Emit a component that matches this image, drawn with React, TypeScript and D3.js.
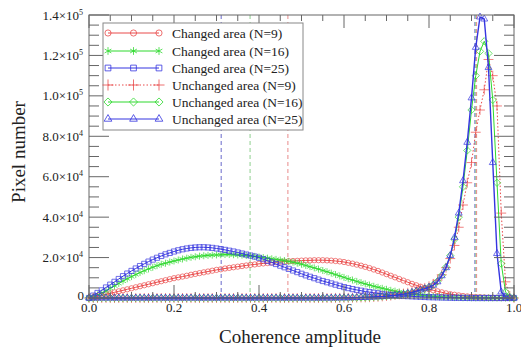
import { useEffect } from 'react';
import * as d3 from 'd3';

// pixel counts in units of 10^3, one value per 0.01 coherence bin (0.00 ... 1.00)
const binWidth = 0.01;

const changedN9 = [
  0, 0.3, 0.8, 1.3, 1.8, 2.3, 2.8, 3.3, 3.8, 4.3,
  4.8, 5.3, 5.8, 6.3, 6.8, 7.3, 7.8, 8.3, 8.8, 9.3,
  9.8, 10.2, 10.6, 11.0, 11.5, 11.9, 12.3, 12.7, 13.1, 13.5,
  13.9, 14.2, 14.6, 14.9, 15.2, 15.5, 15.8, 16.1, 16.4, 16.6,
  16.9, 17.1, 17.3, 17.5, 17.7, 17.9, 18.0, 18.2, 18.3, 18.4,
  18.5, 18.6, 18.6, 18.7, 18.7, 18.7, 18.6, 18.5, 18.3, 18.1,
  17.8, 17.4, 17.0, 16.5, 16.0, 15.4, 14.8, 14.1, 13.4, 12.6,
  11.8, 11.0, 10.2, 9.4, 8.6, 7.8, 7.0, 6.3, 5.6, 5.0,
  4.4, 3.8, 3.3, 2.8, 2.3, 1.9, 1.6, 1.3, 1.0, 0.8,
  0.6, 0.5, 0.4, 0.3, 0.2, 0.15, 0.1, 0.05, 0.05, 0,
  0,
];

const changedN16 = [
  0, 0.5, 1.5, 2.5, 3.5, 4.8, 6.0, 7.2, 8.4, 9.5,
  10.6, 11.6, 12.6, 13.5, 14.4, 15.2, 16.0, 16.7, 17.2, 17.8,
  18.3, 18.8, 19.3, 19.7, 20.1, 20.4, 20.7, 20.9, 21.1, 21.2,
  21.3, 21.4, 21.5, 21.5, 21.4, 21.3, 21.2, 21.0, 20.8, 20.6,
  20.3, 20.0, 19.7, 19.4, 19.1, 18.8, 18.5, 18.1, 17.7, 17.2,
  16.7, 16.1, 15.5, 14.9, 14.3, 13.6, 13.0, 12.3, 11.6, 10.9,
  10.2, 9.5, 8.9, 8.2, 7.6, 7.0, 6.4, 5.8, 5.3, 4.8,
  4.3, 3.8, 3.4, 3.0, 2.6, 2.3, 2.0, 1.7, 1.4, 1.2,
  1.0, 0.8, 0.7, 0.5, 0.4, 0.3, 0.2, 0.2, 0.1, 0.1,
  0.1, 0.05, 0.05, 0, 0, 0, 0, 0, 0, 0,
  0,
];

const changedN25 = [
  0, 1.2, 2.5, 3.8, 5.2, 6.6, 8.0, 9.4, 10.8, 12.1,
  13.4, 14.6, 15.8, 16.9, 18.0, 19.0, 19.9, 20.8, 21.6, 22.3,
  23.0, 23.6, 24.1, 24.5, 24.8, 25.0, 25.1, 25.1, 25.0, 24.8,
  24.5, 24.2, 23.8, 23.4, 23.0, 22.5, 22.0, 21.5, 21.0, 20.5,
  19.9, 19.2, 18.4, 17.6, 16.8, 16.0, 15.2, 14.4, 13.6, 12.8,
  12.0, 11.2, 10.5, 9.8, 9.1, 8.4, 7.8, 7.2, 6.6, 6.0,
  5.4, 4.9, 4.4, 4.0, 3.6, 3.2, 2.9, 2.6, 2.3, 2.0,
  1.7, 1.5, 1.3, 1.1, 1.0, 0.9, 0.8, 0.7, 0.6, 0.5,
  0.4, 0.35, 0.3, 0.25, 0.2, 0.15, 0.1, 0.1, 0.05, 0.05,
  0, 0, 0, 0, 0, 0, 0, 0, 0, 0,
  0,
];

const unchangedN9 = [
  0, 0, 0, 0, 0, 0, 0, 0, 0, 0,
  0, 0, 0, 0, 0, 0, 0, 0, 0, 0,
  0, 0, 0, 0, 0, 0, 0, 0, 0, 0,
  0, 0, 0, 0, 0, 0, 0, 0, 0, 0,
  0, 0, 0, 0, 0, 0, 0, 0, 0, 0,
  0, 0, 0, 0, 0, 0, 0, 0, 0.05, 0.05,
  0.1, 0.1, 0.15, 0.2, 0.25, 0.3, 0.4, 0.5, 0.6, 0.8,
  1.0, 1.2, 1.5, 1.8, 2.2, 2.6, 3.1, 3.7, 4.3, 5.0,
  5.8, 7.0, 8.8, 11.5, 15.0, 19.5, 26.0, 35.0, 46.0, 57.0,
  67.0, 82.0, 93.0, 103.0, 118.0, 110.0, 95.0, 42.0, 8.0, 1.0,
  0,
];

const unchangedN16 = [
  0, 0, 0, 0, 0, 0, 0, 0, 0, 0,
  0, 0, 0, 0, 0, 0, 0, 0, 0, 0,
  0, 0, 0, 0, 0, 0, 0, 0, 0, 0,
  0, 0, 0, 0, 0, 0, 0, 0, 0, 0,
  0, 0, 0, 0, 0, 0, 0, 0, 0, 0,
  0, 0, 0, 0, 0, 0, 0, 0, 0.05, 0.05,
  0.1, 0.1, 0.15, 0.2, 0.25, 0.3, 0.4, 0.5, 0.6, 0.75,
  0.9, 1.1, 1.3, 1.6, 1.9, 2.3, 2.8, 3.3, 3.9, 4.6,
  5.4, 6.5, 8.3, 11.2, 15.3, 21.0, 29.0, 40.0, 55.0, 73.0,
  93.0, 110.0, 122.0, 127.0, 121.0, 98.0, 57.0, 17.0, 3.0, 0.5,
  0,
];

const unchangedN25 = [
  0, 0, 0, 0, 0, 0, 0, 0, 0, 0,
  0, 0, 0, 0, 0, 0, 0, 0, 0, 0,
  0, 0, 0, 0, 0, 0, 0, 0, 0, 0,
  0, 0, 0, 0, 0, 0, 0, 0, 0, 0,
  0, 0, 0, 0, 0, 0, 0, 0, 0, 0,
  0, 0, 0, 0, 0, 0, 0, 0, 0.05, 0.05,
  0.1, 0.1, 0.15, 0.2, 0.25, 0.3, 0.4, 0.5, 0.6, 0.7,
  0.9, 1.1, 1.3, 1.6, 1.9, 2.3, 2.8, 3.4, 4.0, 4.6,
  5.3, 6.3, 8.0, 11.0, 15.0, 21.0, 30.0, 42.0, 58.0, 77.0,
  99.0, 124.0, 139.0, 138.0, 114.0, 67.0, 22.0, 3.0, 0.5, 0.1,
  0,
];

// mean coherence of each class (dashed vertical lines)
const changedMeans = [0.311, 0.379, 0.468];
const unchangedMeans = [0.908, 0.91, 0.912];

const xTicks = [0, 0.2, 0.4, 0.6, 0.8, 1.0];
const yTicks = [0, 20000, 40000, 60000, 80000, 100000, 120000, 140000];

const RED = '#e94b4b';
const GREEN = '#2fd92f';
const BLUE = '#3535e0';

const series = [
  { label: 'Changed area (N=9)', values: changedN9, color: RED, symbol: d3.symbolCircle, dash: '' },
  { label: 'Changed area (N=16)', values: changedN16, color: GREEN, symbol: d3.symbolAsterisk, dash: '' },
  { label: 'Changed area (N=25)', values: changedN25, color: BLUE, symbol: d3.symbolSquare2, dash: '' },
  { label: 'Unchanged area (N=9)', values: unchangedN9, color: RED, symbol: d3.symbolPlus, dash: '1.5,2' },
  { label: 'Unchanged area (N=16)', values: unchangedN16, color: GREEN, symbol: d3.symbolDiamond2, dash: '' },
  { label: 'Unchanged area (N=25)', values: unchangedN25, color: BLUE, symbol: d3.symbolTriangle2, dash: '' },
];
const meanColors = ['#6a6acc', '#8fcf8f', '#e98a8a'];

const W = 521;
const H = 347;
const left = 89;
const right = 514;
const top = 15;
const bottom = 298;
const FONT = 'Liberation Serif';

export default function App() {
  useEffect(() => {
    document.body.style.margin = '0';
  }, []);

  const x = d3.scaleLinear().domain([0, 1]).range([left, right]);
  const y = d3.scaleLinear().domain([0, 140000]).range([bottom, top]);

  const line = d3
    .line<number>()
    .x((_, i) => x(i * binWidth))
    .y((d) => y(d * 1000));

  const xMinor = d3.range(0, 1.0001, 0.05);
  const yMinor = d3.range(0, 140001, 5000);
  const isMajorX = (v: number) => Math.abs(v * 5 - Math.round(v * 5)) < 1e-6;
  const isMajorY = (v: number) => v % 20000 === 0;

  const fmt = (v: number) => {
    if (v === 0) return null;
    const e = Math.floor(Math.log10(v));
    return { m: (v / 10 ** e).toFixed(1), e };
  };

  const legendRows = [33, 51, 68, 85, 102, 119];

  return (
    <svg width={W} height={H} style={{ display: 'block' }}>
      {/* mean lines */}
      {changedMeans.map((m, i) => (
        <line key={'cm' + i} x1={x(m)} x2={x(m)} y1={top} y2={bottom}
          stroke={meanColors[i]} strokeDasharray="4,3" strokeWidth={1} />
      ))}
      {unchangedMeans.map((m, i) => (
        <line key={'um' + i} x1={x(m)} x2={x(m)} y1={top} y2={bottom}
          stroke={meanColors[i]} strokeDasharray="4,3" strokeWidth={1} />
      ))}

      {/* curves */}
      {series.map((s, si) => {
        const sym = d3.symbol(s.symbol, si === 0 ? 22 : 34)();
        return (
          <g key={si}>
            <path d={line(s.values) || ''} fill="none" stroke={s.color}
              strokeWidth={si === 5 ? 1.4 : 1} strokeDasharray={s.dash || undefined} />
            {s.values.map((v, i) => (
              <path key={i} d={sym || ''} transform={`translate(${x(i * binWidth)},${y(v * 1000)})`}
                fill="none" stroke={s.color} strokeWidth={0.7} />
            ))}
          </g>
        );
      })}

      {/* frame */}
      <rect x={left} y={top} width={right - left} height={bottom - top} fill="none" stroke="#666" strokeWidth={1} />
      {xMinor.map((v, i) => {
        const len = isMajorX(v) ? 13 : 6;
        return (
          <g key={'xt' + i} stroke="#666" strokeWidth={1}>
            <line x1={x(v)} x2={x(v)} y1={bottom} y2={bottom - len} />
            <line x1={x(v)} x2={x(v)} y1={top} y2={top + len} />
          </g>
        );
      })}
      {yMinor.map((v, i) => {
        const len = isMajorY(v) ? 20 : 10;
        return (
          <g key={'yt' + i} stroke="#666" strokeWidth={1}>
            <line x1={left} x2={left + len} y1={y(v)} y2={y(v)} />
            <line x1={right} x2={right - len} y1={y(v)} y2={y(v)} />
          </g>
        );
      })}

      {/* tick labels */}
      {xTicks.map((v) => (
        <text key={'xl' + v} x={x(v)} y={bottom + 14} textAnchor="middle" fontSize={13} fill="#222" fontFamily={FONT}>
          {v.toFixed(1)}
        </text>
      ))}
      {yTicks.map((v) => {
        const f = fmt(v);
        return f ? (
          <text key={'yl' + v} x={left - 6} y={y(v) + 4.5} textAnchor="end" fontSize={13} fill="#222" fontFamily={FONT}>
            {f.m}×10
            <tspan fontSize={8} dy={-5}>{f.e}</tspan>
          </text>
        ) : (
          <text key={'yl' + v} x={left - 5} y={y(v) + 2} textAnchor="end" fontSize={13} fill="#222" fontFamily={FONT}>0</text>
        );
      })}

      {/* axis titles */}
      <text x={300} y={343} textAnchor="middle" fontSize={19} fill="#222" fontFamily={FONT}>Coherence amplitude</text>
      <text transform={`translate(25,152) rotate(-90)`} textAnchor="middle" fontSize={19} fill="#222" fontFamily={FONT}>
        Pixel number
      </text>

      {/* legend */}
      <rect x={103} y={23} width={200} height={107} fill="#fff" stroke="#888" strokeWidth={1} />
      {series.map((s, si) => {
        const sym = d3.symbol(s.symbol, si === 0 ? 30 : 42)();
        const ly = legendRows[si];
        return (
          <g key={'lg' + si}>
            <line x1={108} x2={159} y1={ly} y2={ly} stroke={s.color} strokeWidth={1}
              strokeDasharray={s.dash || undefined} />
            {[108, 133.5, 159].map((lx) => (
              <path key={lx} d={sym || ''} transform={`translate(${lx},${ly})`} fill="none"
                stroke={s.color} strokeWidth={0.8} />
            ))}
            <text x={172} y={ly + 4.5} fontSize={13.5} fill="#222" fontFamily={FONT}>{s.label}</text>
          </g>
        );
      })}
    </svg>
  );
}
